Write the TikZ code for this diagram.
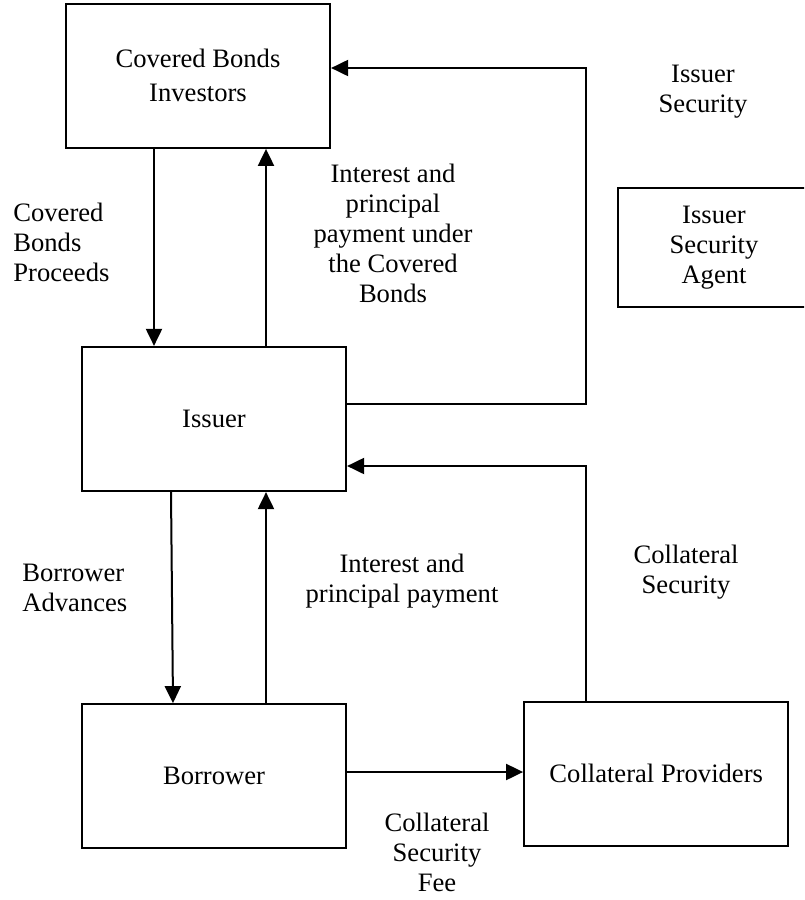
\documentclass[tikz,border=0pt]{standalone}
\usepackage{fontspec}
\setmainfont{Liberation Serif}
\usetikzlibrary{positioning, calc, arrows.meta}
\tikzset{every node/.style={font=\fontsize{13.3}{15}\selectfont}}
\tikzset{box/.style={draw, line width=1.1pt, minimum width=132pt, minimum height=72pt, align=center}}
\tikzset{flow/.style={-{Triangle[length=8.5pt, width=8pt]}, line width=1pt}}
\tikzset{lbl/.style={align=center, inner sep=0pt}}

\begin{document}
\begin{tikzpicture}[x=0.5pt, y=-0.5pt]
  \useasboundingbox (0,0) rectangle (804,900);
  \clip (0,0) rectangle (804,900);

  \node[box] (iss) at (214,419) {Issuer};
  \node[box] (cbi) [above=98.5pt of iss, xshift=-8pt] {Covered Bonds\\[2pt]Investors};
  \node[box] (bor) [below=105.5pt of iss] {Borrower};
  \node[box] (cp) [right=88pt of bor, yshift=1.25pt] {Collateral Providers};
  \node[box, minimum width=96pt, minimum height=59.5pt] (isa) at (714,247.5) {Issuer\\Security\\Agent};

  % flows between issuer and investors
  \draw[flow] (cbi.south -| 154,0) -- (iss.north -| 154,0);
  \draw[flow] (iss.north -| 266,0) -- (cbi.south -| 266,0);
  \draw[flow] (iss.east |- 0,404) -| (586,68) -- (cbi.east |- 0,68);

  % flows between issuer and borrower
  \draw[flow] (iss.south -| 171,0) -- (bor.north -| 173,0);
  \draw[flow] (bor.north -| 266,0) -- (iss.south -| 266,0);
  \draw[flow] (cp.north -| 586,0) |- (iss.east |- 0,466);
  \draw[flow] (bor.east |- 0,772) -- (cp.west |- 0,772);

  \node[lbl, align=left, anchor=west] (cbp) at (13,242) {Covered\\Bonds\\Proceeds};
  \node[lbl] (ipcb) at (393,233) {Interest and\\principal\\payment under\\the Covered\\Bonds};
  \node[lbl] (isec) at (703,92) {Issuer\\Security};
  \node[lbl, align=left, anchor=west] (badv) at (22,588) {Borrower\\Advances};
  \node[lbl] (ipp) at (402,581) {Interest and\\principal payment};
  \node[lbl] (csec) at (686,572) {Collateral\\Security};
  \node[lbl] (csf) at (437,852) {Collateral\\Security\\Fee};
\end{tikzpicture}
\end{document}
